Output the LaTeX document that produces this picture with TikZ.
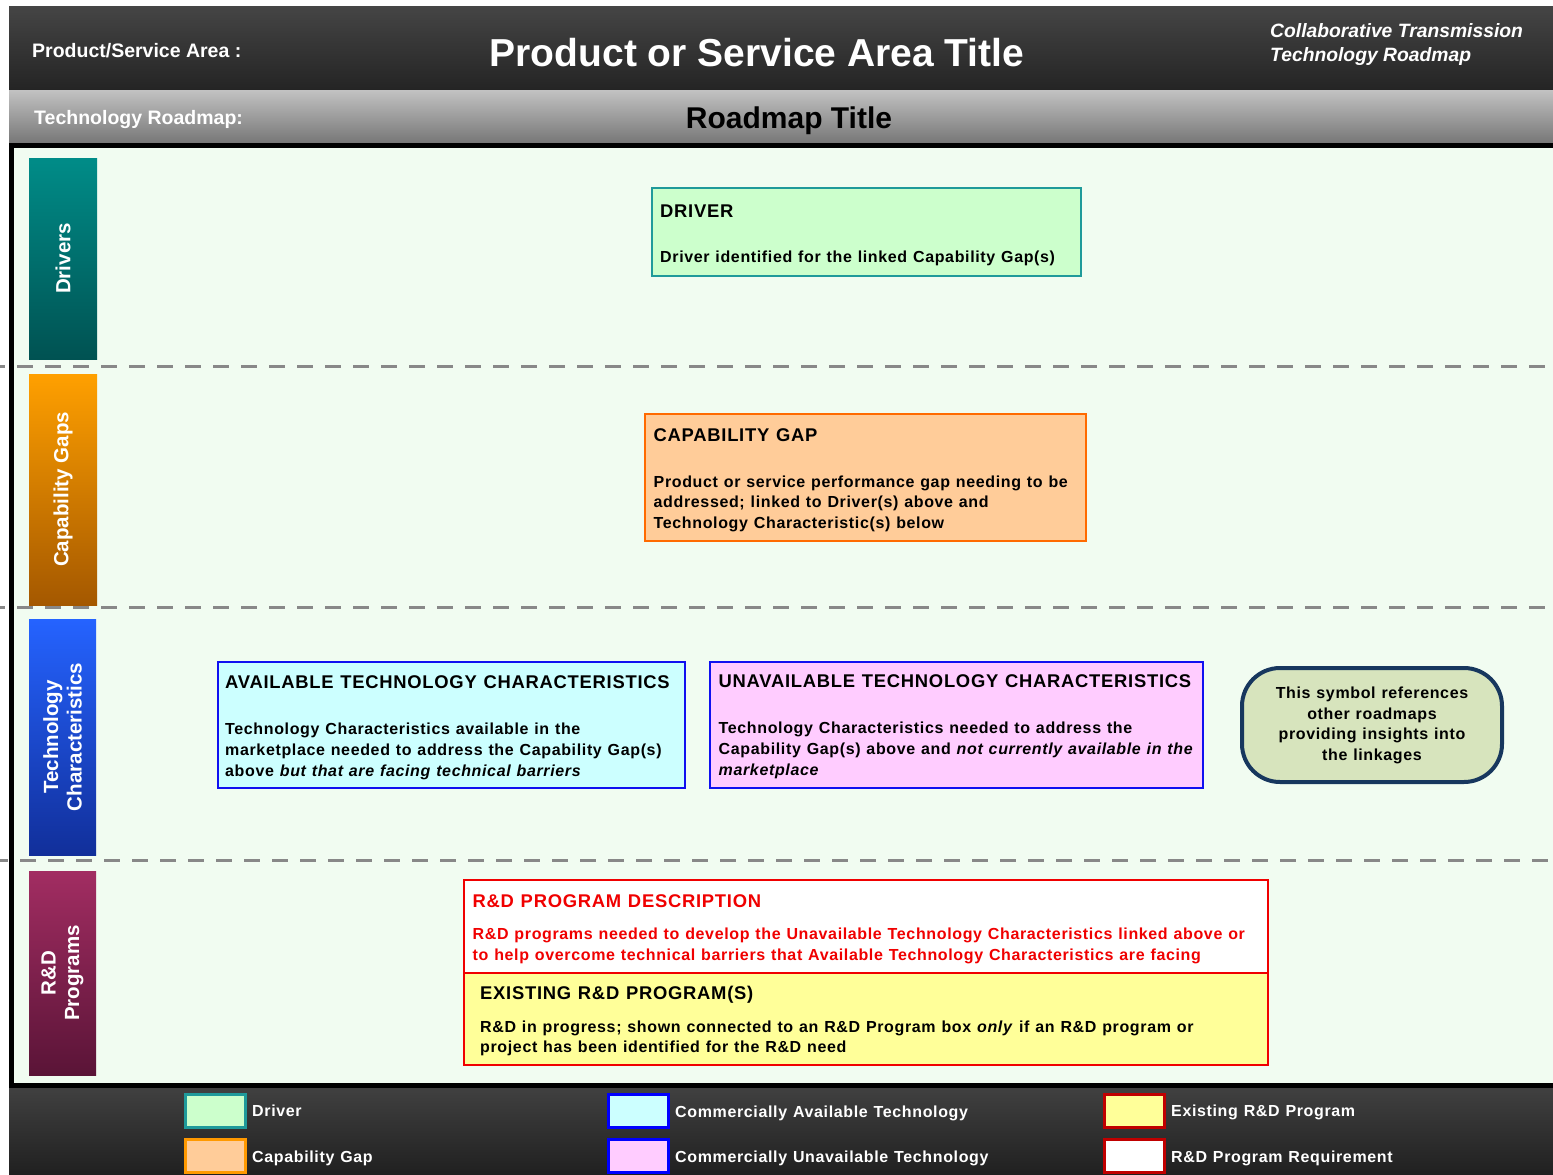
\documentclass[tikz,border=0pt]{standalone}
\usepackage{fontspec}
\setmainfont{Liberation Sans}
\newfontfamily\bx[LetterSpace=4,WordSpace=1.15]{Liberation Sans}
\definecolor{hdtop}{HTML}{454545}
\definecolor{hdbot}{HTML}{242424}
\definecolor{grtop}{HTML}{C2C2C2}
\definecolor{grbot}{HTML}{777777}
\definecolor{ftop}{HTML}{404040}
\definecolor{fbot}{HTML}{202020}
\definecolor{mainbg}{HTML}{F1FCF1}
\definecolor{dashgray}{HTML}{888888}
\definecolor{drvA}{HTML}{008C88}
\definecolor{drvB}{HTML}{005252}
\definecolor{capA}{HTML}{FFA000}
\definecolor{capB}{HTML}{A45800}
\definecolor{tecA}{HTML}{2563FF}
\definecolor{tecB}{HTML}{112F9A}
\definecolor{rdA}{HTML}{A22D62}
\definecolor{rdB}{HTML}{5A1437}
\definecolor{drvfill}{HTML}{CCFFCC}
\definecolor{drvline}{HTML}{1F9A9A}
\definecolor{capfill}{HTML}{FFCC99}
\definecolor{capline}{HTML}{FF6A00}
\definecolor{avfill}{HTML}{CCFFFF}
\definecolor{unfill}{HTML}{FFCCFF}
\definecolor{blueline}{HTML}{1010F0}
\definecolor{refill}{HTML}{D7E4BD}
\definecolor{refline}{HTML}{17375E}
\definecolor{rdred}{HTML}{F00000}
\definecolor{exfill}{HTML}{FFFF99}
\definecolor{darkred}{HTML}{C00000}
\definecolor{legcap}{HTML}{FF9900}
\begin{document}
\begin{tikzpicture}[x=1pt,y=-1pt,
  area/.style={anchor=north west, inner sep=0pt, outer sep=0pt, draw=none},
  box/.style={anchor=north west, inner sep=0pt, outer sep=0pt, line width=2pt},
  sidebox/.style={anchor=north west, inner sep=0pt, outer sep=0pt, draw=none, minimum width=68pt},
  sidetxt/.style={rotate=90, inner sep=0pt, text=white, align=center, font=\bfseries\fontsize{20.5}{23.5}\selectfont},
  ttl/.style={anchor=base west, inner sep=0pt, font=\bx\bfseries\fontsize{18.4}{21}\selectfont},
  body/.style={anchor=base west, inner sep=0pt, font=\bx\bfseries\fontsize{16}{20}\selectfont},
  swatch/.style={anchor=north west, inner sep=0pt, outer sep=0pt, line width=3pt, minimum width=60pt, minimum height=33pt},
  legtxt/.style={anchor=base west, inner sep=0pt, text=white, font=\bx\bfseries\fontsize{16}{19}\selectfont},
  hdtxt/.style={inner sep=0pt, text=white},
  sep/.style={dash pattern=on 16pt off 12pt, line width=3pt, draw=dashgray}
]
\useasboundingbox (0,0) rectangle (1553,1175);
\fill[white] (0,0) rectangle (1553,1175);
% header bands
\node[area, top color=hdtop, bottom color=hdbot, minimum width=1544pt, minimum height=84pt] (hdr) at (9,6) {};
\node[area, top color=grtop, bottom color=grbot, minimum width=1544pt, minimum height=53pt] (band) at (9,90) {};
\node[area, fill=black, minimum width=1544pt, minimum height=945pt] (frame) at (9,143) {};
\node[area, fill=mainbg, minimum width=1539pt, minimum height=935pt] (main) at (14,148) {};
\node[area, top color=ftop, bottom color=fbot, minimum width=1544pt, minimum height=87pt] (ftr) at (9,1088) {};
% header texts
\node[hdtxt, anchor=base west, font=\bfseries\fontsize{19.5}{22}\selectfont] (psa) at (32,57) {Product/Service Area :};
\node[hdtxt, anchor=base, font=\bfseries\fontsize{39}{44}\selectfont] (ptitle) at (757,66) {Product or Service Area Title};
\node[hdtxt, anchor=base west, font=\bfseries\itshape\fontsize{19.3}{24}\selectfont] (ctr1) at (1270,37) {Collaborative Transmission};
\node[hdtxt, anchor=base west, font=\bfseries\itshape\fontsize{19.3}{24}\selectfont] (ctr2) at (1270,61) {Technology Roadmap};
\node[hdtxt, anchor=base west, font=\bfseries\fontsize{19.5}{22}\selectfont] (trm) at (34,124) {Technology Roadmap:};
\node[anchor=base, inner sep=0pt, text=black, font=\bfseries\fontsize{30}{34}\selectfont] (rtitle) at (789,128) {Roadmap Title};
% separators
\draw[sep] (-11,366) -- (1560,366);
\draw[sep] (-11,607.5) -- (1560,607.5);
\draw[sep] (-8,860) -- (1560,860);
% left border over separators
\fill[black] (9,143) rectangle (14,1088);
% side labels
\node[sidebox, top color=drvA, bottom color=drvB, minimum height=201pt] (sdrv) at (29,158) {};
\node[sidetxt] (sdrvT) at (sdrv.center) {Drivers};
\node[sidebox, top color=capA, bottom color=capB, minimum height=231pt] (scap) at (29,374) {};
\node[sidetxt] (scapT) at (scap.center) {Capability Gaps};
\node[sidebox, top color=tecA, bottom color=tecB, minimum height=236pt, minimum width=67pt] (stec) at (29,619) {};
\node[sidetxt] (stecT) at (stec.center) {Technology\\Characteristics};
\node[sidebox, top color=rdA, bottom color=rdB, minimum height=204pt, minimum width=67pt] (srd) at (29,871) {};
\node[sidetxt] (srdT) at (srd.center) {R\&D\\Programs};
% driver
\node[box, fill=drvfill, draw=drvline, minimum width=429pt, minimum height=88pt] (drv) at (651.5,188) {};
\node[ttl] (drvT) at (660,217) {DRIVER};
\node[body] (drvB) at (660,262) {Driver identified for the linked Capability Gap(s)};
% capability gap
\node[box, fill=capfill, draw=capline, minimum width=441pt, minimum height=127pt] (cap) at (645,414) {};
\node[ttl] (capT) at (653.5,441) {CAPABILITY GAP};
\node[body] (capB1) at (653.5,487) {Product or service performance gap needing to be};
\node[body] (capB2) at (653.5,507.5) {addressed; linked to Driver(s) above and};
\node[body] (capB3) at (653.5,528) {Technology Characteristic(s) below};
% available
\node[box, fill=avfill, draw=blueline, minimum width=467pt, minimum height=126pt] (av) at (217.5,661.5) {};
\node[ttl] (avT) at (225,688.5) {AVAILABLE TECHNOLOGY CHARACTERISTICS};
\node[body] (avB1) at (225,734) {Technology Characteristics available in the};
\node[body] (avB2) at (225,755) {marketplace needed to address the Capability Gap(s)};
\node[body] (avB3) at (225,776) {above \textit{but that are facing technical barriers}};
% unavailable
\node[box, fill=unfill, draw=blueline, minimum width=493pt, minimum height=126pt] (un) at (710,661.5) {};
\node[ttl] (unT) at (718.5,687) {UNAVAILABLE TECHNOLOGY CHARACTERISTICS};
\node[body] (unB1) at (718.5,733) {Technology Characteristics needed to address the};
\node[body] (unB2) at (718.5,754) {Capability Gap(s) above and \textit{not currently available in the}};
\node[body] (unB3) at (718.5,775) {\textit{marketplace}};
% reference symbol
\node[anchor=north west, inner sep=0pt, outer sep=0pt, fill=refill, draw=refline, line width=4pt, rounded corners=38pt, minimum width=260pt, minimum height=114pt] (ref) at (1242,668) {};
\node[inner sep=0pt, align=center, font=\bx\bfseries\fontsize{16}{20.7}\selectfont] (refT) at (1372,725.5) {This symbol references\\other roadmaps\\providing insights into\\the linkages};
% R&D program description
\node[box, fill=white, draw=rdred, minimum width=804pt, minimum height=93pt] (rdd) at (464,879.5) {};
\node[ttl, text=rdred] (rddT) at (472.5,907) {R\&D PROGRAM DESCRIPTION};
\node[body, text=rdred] (rddB1) at (472.5,939.5) {R\&D programs needed to develop the Unavailable Technology Characteristics linked above or};
\node[body, text=rdred] (rddB2) at (472.5,960) {to help overcome technical barriers that Available Technology Characteristics are facing};
% existing R&D
\node[box, fill=exfill, draw=rdred, minimum width=804pt, minimum height=92.5pt] (ex) at (464,972.5) {};
\node[ttl] (exT) at (480,999.5) {EXISTING R\&D PROGRAM(S)};
\node[body] (exB1) at (480,1032) {R\&D in progress; shown connected to an R\&D Program box \textit{only} if an R\&D program or};
\node[body] (exB2) at (480,1052.5) {project has been identified for the R\&D need};
% legend
\node[swatch, fill=drvfill, draw=drvline] (lg1) at (185.5,1094.5) {};
\node[legtxt] (lg1T) at (252,1116.5) {Driver};
\node[swatch, fill=capfill, draw=legcap] (lg2) at (185.5,1139.5) {};
\node[legtxt] (lg2T) at (252,1162) {Capability Gap};
\node[swatch, fill=avfill, draw=blue] (lg3) at (608.5,1094.5) {};
\node[legtxt] (lg3T) at (675,1117) {Commercially Available Technology};
\node[swatch, fill=unfill, draw=blue] (lg4) at (608.5,1139.5) {};
\node[legtxt] (lg4T) at (675,1162) {Commercially Unavailable Technology};
\node[swatch, fill=exfill, draw=darkred] (lg5) at (1104.5,1094.5) {};
\node[legtxt] (lg5T) at (1171,1116.5) {Existing R\&D Program};
\node[swatch, fill=white, draw=darkred] (lg6) at (1104.5,1139.5) {};
\node[legtxt] (lg6T) at (1171,1162) {R\&D Program Requirement};
\end{tikzpicture}
\end{document}
